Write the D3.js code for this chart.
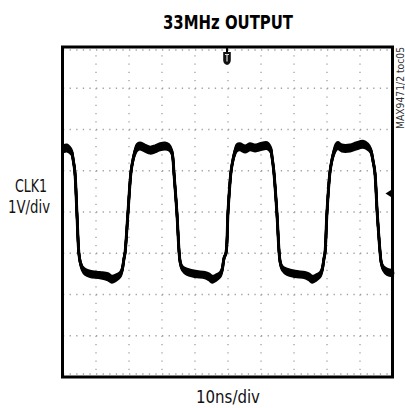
<!DOCTYPE html>
<html><head><meta charset="utf-8">
<script src="https://cdn.jsdelivr.net/npm/d3@7"></script>
<style>
html,body{margin:0;padding:0;background:#fff;}
svg{display:block;}
</style></head>
<body>
<svg id="chart" width="405" height="408"></svg>
<script>
// ---- chart data ----
const title = "33MHz OUTPUT";
const yLabelLines = ["CLK1", "1V/div"];
const xLabel = "10ns/div";
const sideNote = "MAX9471/2 toc05";
const timeDomain = [0, 100];      // ns (10 ns/div, 10 div)
const voltDomain = [-4, 4];       // V  (1 V/div, 8 div)
const triggerTime = 50;           // ns
const triggerLevel = 0.45;        // V
// trace samples: [time ns, volts, noise half-spread V]
const trace = [
  [0,1.53,0.08],[1.2,1.55,0.08],[2.1,1.50,0.07],[2.7,1.43,0.05],[3.0,1.31,0.03],[3.6,0.97,0.01],
  [4.2,0,0.01],[4.8,-0.99,0.01],[5.2,-1.21,0.03],[5.8,-1.36,0.05],[6.7,-1.45,0.07],[8.2,-1.50,0.07],
  [11.2,-1.53,0.07],[13.6,-1.57,0.08],[14.8,-1.63,0.08],[16.1,-1.59,0.07],[17.3,-1.52,0.06],
  [17.9,-1.41,0.04],[18.5,-1.12,0.02],[18.8,-0.99,0.01],[19.7,0,0.01],[20.6,0.97,0.01],
  [21.2,1.26,0.03],[21.8,1.45,0.06],[22.4,1.56,0.08],[23.3,1.60,0.08],[24.8,1.55,0.08],
  [26.4,1.50,0.08],[27.9,1.53,0.08],[29.4,1.58,0.08],[30.9,1.60,0.08],[32.1,1.57,0.07],
  [33.0,1.45,0.05],[33.3,1.31,0.03],[33.6,0.97,0.01],[34.5,0,0.01],[35.2,-0.99,0.01],
  [35.5,-1.21,0.03],[36.1,-1.36,0.05],[37.6,-1.45,0.07],[40.0,-1.50,0.07],[43.0,-1.53,0.07],
  [44.2,-1.57,0.08],[45.2,-1.63,0.08],[46.4,-1.59,0.07],[47.6,-1.52,0.06],[48.2,-1.41,0.04],
  [48.8,-1.12,0.02],[49.4,-0.99,0.01],[50.0,0,0.01],[50.9,0.97,0.01],[51.5,1.26,0.03],
  [52.1,1.45,0.06],[52.7,1.56,0.08],[53.6,1.58,0.08],[55.2,1.53,0.08],[56.7,1.58,0.08],
  [58.2,1.55,0.08],[59.7,1.58,0.08],[61.8,1.61,0.08],[63.0,1.50,0.06],[63.3,1.36,0.03],
  [63.9,0.97,0.01],[64.8,0,0.01],[65.5,-0.99,0.01],[65.8,-1.21,0.03],[66.4,-1.36,0.05],
  [67.9,-1.45,0.07],[70.3,-1.50,0.07],[73.3,-1.53,0.07],[74.5,-1.57,0.08],[75.5,-1.63,0.08],
  [76.7,-1.59,0.07],[77.9,-1.52,0.06],[78.5,-1.41,0.04],[79.1,-1.12,0.02],[79.4,-0.99,0.01],
  [80.0,0,0.01],[80.9,0.97,0.01],[81.5,1.26,0.03],[82.1,1.45,0.06],[82.7,1.57,0.08],
  [83.3,1.61,0.08],[84.5,1.55,0.08],[87.0,1.55,0.08],[88.8,1.60,0.08],[90.9,1.64,0.08],
  [92.4,1.58,0.07],[93.3,1.48,0.05],[93.9,1.26,0.03],[94.5,0.97,0.01],[95.2,0,0.01],
  [96.1,-0.99,0.01],[96.4,-1.21,0.03],[97.0,-1.36,0.05],[98.2,-1.45,0.07],[100,-1.48,0.07]
];

// ---- drawing ----
const svg = d3.select("#chart");
const x = d3.scaleLinear().domain(timeDomain).range([63, 393]);
const y = d3.scaleLinear().domain(voltDomain).range([377, 47]);
const narrow = "'Liberation Sans Narrow','DejaVu Sans Condensed','Liberation Sans',sans-serif";

// grid
const g = svg.append("g");
const xTicks = d3.range(timeDomain[0] + 10, timeDomain[1], 10);
const yTicks = d3.range(voltDomain[0] + 1, voltDomain[1], 1);
g.selectAll(".vg").data(xTicks).join("line")
  .attr("x1", d => x(d)).attr("x2", d => x(d))
  .attr("y1", y(voltDomain[1])).attr("y2", y(voltDomain[0]))
  .attr("stroke", "#a0a0a0").attr("stroke-width", 1.3)
  .attr("stroke-dasharray", "1.3 6.95");
g.selectAll(".hg").data(yTicks).join("line")
  .attr("y1", d => y(d)).attr("y2", d => y(d))
  .attr("x1", x(timeDomain[0])).attr("x2", x(timeDomain[1]))
  .attr("stroke", "#a0a0a0").attr("stroke-width", 1.3)
  .attr("stroke-dasharray", "1.3 5.3");
g.selectAll(".tb").data([voltDomain[1], voltDomain[0]]).join("line")
  .attr("y1", d => y(d) + (d > 0 ? 3 : -3)).attr("y2", d => y(d) + (d > 0 ? 3 : -3))
  .attr("x1", x(timeDomain[0])).attr("x2", x(timeDomain[1]))
  .attr("stroke", "#a0a0a0").attr("stroke-width", 1.3)
  .attr("stroke-dasharray", "1.3 5.3");

// trace (noise envelope drawn as stacked offset strokes)
const line = (off) => d3.line()
  .x(d => x(d[0])).y(d => y(d[1] + off * d[2]))
  .curve(d3.curveCatmullRom.alpha(0.5));
[-1, -0.5, 0.5, 1, 0].forEach(off => {
  svg.append("path").datum(trace)
    .attr("d", line(off))
    .attr("fill", "none").attr("stroke", "#000")
    .attr("stroke-width", off === 0 ? 3 : 2.4)
    .attr("stroke-linejoin", "round").attr("stroke-linecap", "round");
});

// frame
svg.append("rect")
  .attr("x", x(timeDomain[0]) - 0.5).attr("y", y(voltDomain[1]))
  .attr("width", x(timeDomain[1]) - x(timeDomain[0]))
  .attr("height", y(voltDomain[0]) - y(voltDomain[1]))
  .attr("fill", "none").attr("stroke", "#000").attr("stroke-width", 3);

// trigger position marker (top)
const tx = x(triggerTime) - 1, ty = y(voltDomain[1]);
svg.append("rect").attr("x", tx - 1).attr("y", ty + 1).attr("width", 2).attr("height", 4).attr("fill", "#000");
svg.append("path")
  .attr("d", `M${tx - 3.8},${ty + 5} h7.6 v8 q0,4 -3.8,5 q-3.8,-1 -3.8,-5 z`)
  .attr("fill", "#111");
svg.append("path")
  .attr("d", `M${tx - 2},${ty + 7.5} h4 M${tx},${ty + 7.5} v7`)
  .attr("stroke", "#ddd").attr("stroke-width", 1.2).attr("fill", "none");

// trigger level marker (right)
const ly = y(triggerLevel), rx = x(timeDomain[1]) - 2;
svg.append("path")
  .attr("d", `M${rx - 5.5},${ly} L${rx},${ly - 3.5} L${rx},${ly + 3.5} Z`)
  .attr("fill", "#000");

// texts
svg.append("text").text(title)
  .attr("x", x(50)).attr("y", 28.5).attr("text-anchor", "middle")
  .attr("font-family", narrow).attr("font-weight", "bold").attr("font-size", 20)
  .attr("textLength", 130).attr("lengthAdjust", "spacingAndGlyphs").attr("fill", "#000");

svg.append("text").text(yLabelLines[0])
  .attr("x", 31).attr("y", 192).attr("text-anchor", "middle")
  .attr("font-family", narrow).attr("font-size", 17)
  .attr("textLength", 32).attr("lengthAdjust", "spacingAndGlyphs").attr("fill", "#111");
svg.append("text").text(yLabelLines[1])
  .attr("x", 29).attr("y", 213).attr("text-anchor", "middle")
  .attr("font-family", narrow).attr("font-size", 17)
  .attr("textLength", 42).attr("lengthAdjust", "spacingAndGlyphs").attr("fill", "#111");

svg.append("text").text(xLabel)
  .attr("x", x(50)).attr("y", 403).attr("text-anchor", "middle")
  .attr("font-family", narrow).attr("font-size", 17)
  .attr("textLength", 64).attr("lengthAdjust", "spacingAndGlyphs").attr("fill", "#111");

svg.append("text").text(sideNote)
  .attr("transform", "translate(404,88) rotate(-90)")
  .attr("text-anchor", "middle")
  .attr("font-family", narrow).attr("font-size", 10)
  .attr("textLength", 82).attr("lengthAdjust", "spacingAndGlyphs").attr("fill", "#333");
</script>
</body></html>
